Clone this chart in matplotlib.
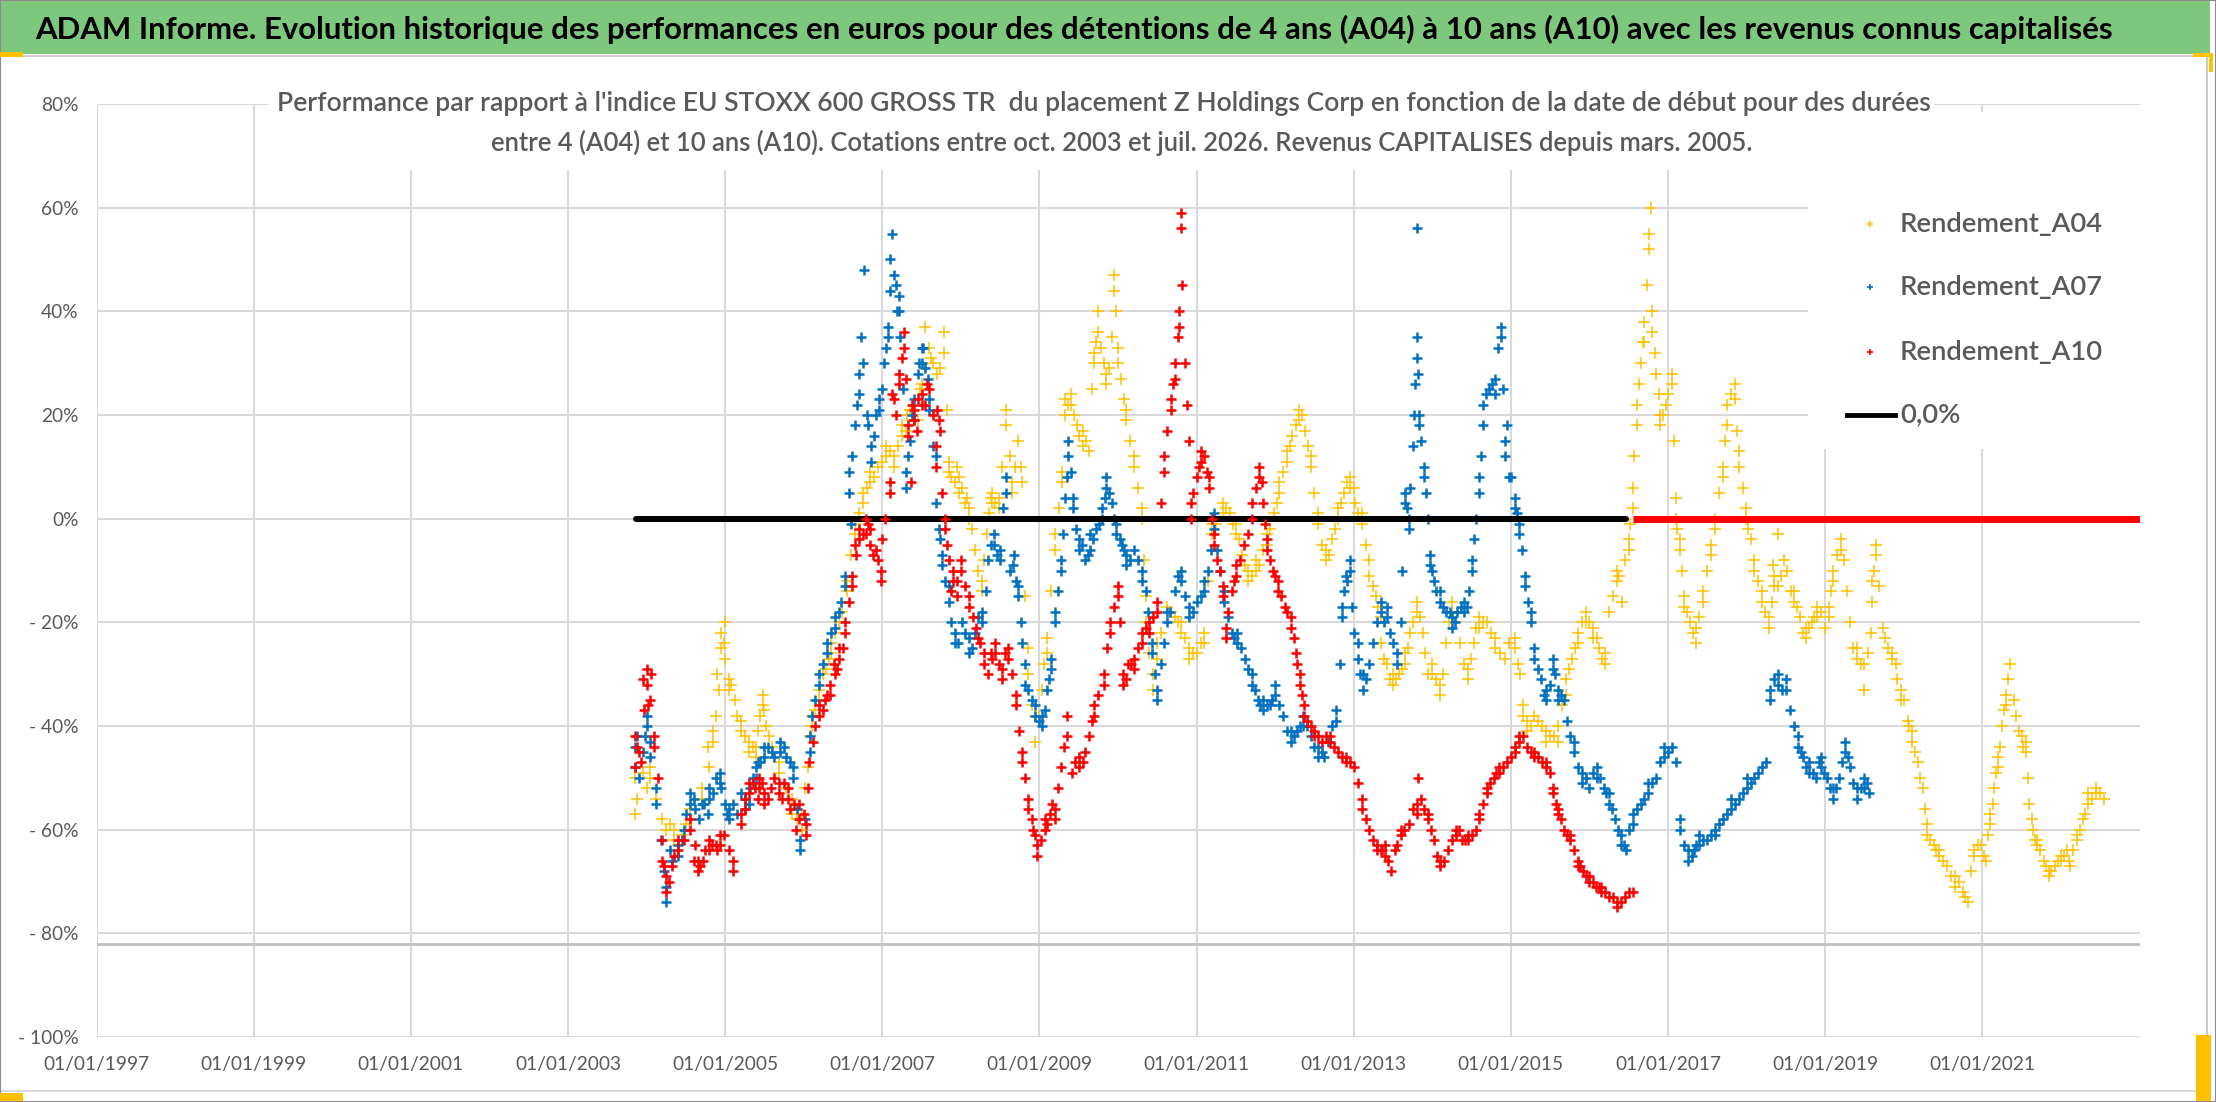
import matplotlib
matplotlib.use("Agg")
import matplotlib.pyplot as plt
from matplotlib.font_manager import FontProperties, fontManager
from matplotlib.textpath import TextPath
from matplotlib.patches import Rectangle
from matplotlib.lines import Line2D

# ---------------------------------------------------------------- data
TITLE = ("ADAM Informe. Evolution historique des performances en euros pour des "
         "détentions de 4 ans (A04) à 10 ans (A10) avec les revenus connus capitalisés")
SUB1 = ("Performance par rapport à l'indice EU STOXX 600 GROSS TR  du placement Z Holdings "
        "Corp en fonction de la date de début pour des durées")
SUB2 = ("entre 4 (A04) et 10 ans (A10). Cotations entre oct. 2003 et juil. 2026. "
        "Revenus CAPITALISES depuis mars. 2005.")

SERIES_NAMES = ["Rendement_A04", "Rendement_A07", "Rendement_A10", "0,0%"]

TICK_YEARS = [1997, 1999, 2001, 2003, 2005, 2007, 2009, 2011, 2013, 2015, 2017, 2019, 2021]
TICK_LABELS = ["01/01/%d" % y for y in TICK_YEARS]
Y_TICKS = [80, 60, 40, 20, 0, -20, -40, -60, -80, -100]
Y_LABELS = ["80%", "60%", "40%", "20%", "0%", "- 20%", "- 40%", "- 60%", "- 80%", "- 100%"]

# (start date as decimal year, performance in %)
A04 = [
    (2003.85, -50), (2003.85, -57), (2004.05, -50), (2004.05, -48), (2004.12, -54), (2004.20, -58),
    (2004.35, -62), (2004.35, -60), (2004.45, -61), (2004.55, -58), (2004.55, -56), (2004.70, -54),
    (2004.70, -52), (2004.80, -48), (2004.85, -41), (2004.85, -43), (2004.92, -33), (2004.95, -25),
    (2004.95, -22), (2005.00, -20), (2005.00, -27), (2005.05, -33), (2005.05, -31), (2005.12, -35),
    (2005.20, -41), (2005.20, -39), (2005.30, -43), (2005.30, -45), (2005.39, -46), (2005.39, -44),
    (2005.45, -38), (2005.48, -36), (2005.48, -34), (2005.52, -40), (2005.60, -44), (2005.68, -49),
    (2005.68, -47), (2005.78, -52), (2005.85, -57), (2005.85, -54), (2005.92, -58), (2005.98, -60),
    (2005.98, -57), (2006.05, -48), (2006.11, -38), (2006.11, -40), (2006.20, -35), (2006.20, -33),
    (2006.28, -29), (2006.35, -24), (2006.35, -26), (2006.45, -20), (2006.49, -18), (2006.55, -12),
    (2006.55, -14), (2006.60, -7), (2006.65, -1), (2006.65, -3), (2006.75, 5), (2006.75, 3),
    (2006.85, 9), (2006.85, 7), (2006.95, 10), (2007.05, 12), (2007.05, 14), (2007.15, 12),
    (2007.15, 10), (2007.25, 18), (2007.25, 16), (2007.32, 20), (2007.40, 19), (2007.40, 21),
    (2007.48, 25), (2007.55, 37), (2007.55, 29), (2007.62, 31), (2007.70, 28), (2007.78, 32),
    (2007.78, 36), (2007.82, 21), (2007.85, 9), (2007.85, 11), (2007.92, 7), (2007.98, 8),
    (2007.98, 5), (2008.05, 3), (2008.10, 2), (2008.10, 0), (2008.18, -6), (2008.27, -14),
    (2008.27, -12), (2008.33, -3), (2008.40, 5), (2008.40, 3), (2008.48, 4), (2008.48, 2),
    (2008.58, 21), (2008.58, 18), (2008.65, 5), (2008.65, 7), (2008.73, 15), (2008.78, 7),
    (2008.82, -15), (2008.86, -30), (2008.86, -25), (2008.95, -43), (2008.95, -38), (2009.03, -33),
    (2009.10, -23), (2009.10, -26), (2009.20, -3), (2009.20, -6), (2009.29, 7), (2009.29, 9),
    (2009.33, 23), (2009.33, 20), (2009.40, 22), (2009.40, 24), (2009.48, 18), (2009.55, 17),
    (2009.55, 14), (2009.63, 13), (2009.70, 32), (2009.70, 30), (2009.75, 40), (2009.75, 36),
    (2009.82, 30), (2009.85, 26), (2009.85, 28), (2009.92, 35), (2009.95, 47), (2009.95, 44),
    (2010.00, 33), (2010.00, 30), (2010.10, 19), (2010.10, 21), (2010.20, 10), (2010.20, 12),
    (2010.30, 0), (2010.30, 2), (2010.35, -20), (2010.35, -15), (2010.45, -33), (2010.45, -30),
    (2010.50, -27), (2010.50, -24), (2010.62, -17), (2010.72, -19), (2010.80, -20), (2010.80, -22),
    (2010.90, -27), (2010.90, -25), (2011.00, -26), (2011.10, -24), (2011.10, -22), (2011.15, -12),
    (2011.20, -1), (2011.20, -3), (2011.33, 3), (2011.33, 1), (2011.42, 1), (2011.50, -3),
    (2011.50, -1), (2011.58, -7), (2011.65, -12), (2011.65, -10), (2011.75, -10), (2011.75, -8),
    (2011.85, -6), (2011.90, -5), (2011.90, -3), (2011.98, 1), (2012.05, 5), (2012.05, 7),
    (2012.15, 11), (2012.15, 13), (2012.22, 16), (2012.30, 19), (2012.30, 21), (2012.38, 17),
    (2012.45, 12), (2012.45, 10), (2012.55, -1), (2012.55, 1), (2012.65, -8), (2012.65, -6),
    (2012.72, -4), (2012.80, 0), (2012.80, 2), (2012.88, 5), (2012.95, 8), (2012.95, 6),
    (2013.02, 3), (2013.10, -1), (2013.10, 1), (2013.20, -11), (2013.20, -8), (2013.28, -15),
    (2013.35, -19), (2013.35, -24), (2013.42, -28), (2013.50, -32), (2013.50, -30), (2013.58, -30),
    (2013.65, -28), (2013.65, -26), (2013.72, -22), (2013.80, -18), (2013.80, -16), (2013.88, -22),
    (2013.95, -30), (2014.00, -30), (2014.00, -28), (2014.10, -34), (2014.10, -32), (2014.18, -24),
    (2014.25, -16), (2014.25, -18), (2014.35, -24), (2014.45, -31), (2014.45, -29), (2014.53, -24),
    (2014.60, -19), (2014.60, -21), (2014.70, -20), (2014.80, -25), (2014.80, -23), (2014.92, -27),
    (2015.05, -25), (2015.05, -23), (2015.12, -30), (2015.15, -36), (2015.15, -38), (2015.20, -41),
    (2015.20, -39), (2015.30, -38), (2015.40, -40), (2015.45, -41), (2015.45, -43), (2015.60, -43),
    (2015.60, -40), (2015.70, -31), (2015.70, -34), (2015.78, -27), (2015.85, -22), (2015.85, -24),
    (2015.95, -18), (2015.95, -20), (2016.05, -23), (2016.05, -21), (2016.12, -25), (2016.20, -28),
    (2016.20, -26), (2016.25, -18), (2016.35, -10), (2016.35, -12), (2016.42, -16), (2016.50, -4),
    (2016.50, -6), (2016.55, 6), (2016.55, 2), (2016.60, 22), (2016.60, 18), (2016.66, 30),
    (2016.70, 38), (2016.70, 34), (2016.76, 52), (2016.76, 55), (2016.78, 60), (2016.80, 36),
    (2016.80, 40), (2016.85, 28), (2016.90, 20), (2016.90, 18), (2016.97, 22), (2017.05, 28),
    (2017.05, 26), (2017.10, 0), (2017.10, 4), (2017.15, -6), (2017.15, -4), (2017.20, -17),
    (2017.20, -15), (2017.28, -20), (2017.35, -24), (2017.35, -21), (2017.45, -14), (2017.45, -16),
    (2017.55, -5), (2017.55, -7), (2017.60, 0), (2017.60, -2), (2017.70, 10), (2017.70, 8),
    (2017.75, 22), (2017.75, 18), (2017.85, 26), (2017.85, 23), (2017.90, 10), (2017.90, 13),
    (2017.99, 2), (2017.99, 0), (2018.05, -4), (2018.10, -10), (2018.10, -8), (2018.20, -16),
    (2018.20, -14), (2018.28, -21), (2018.28, -19), (2018.35, -13), (2018.35, -11), (2018.40, -13),
    (2018.40, -3), (2018.48, -8), (2018.60, -16), (2018.60, -14), (2018.68, -19), (2018.75, -23),
    (2018.75, -21), (2018.83, -20), (2018.90, -19), (2018.90, -17), (2019.00, -21), (2019.05, -19),
    (2019.05, -17), (2019.10, -10), (2019.10, -12), (2019.20, -6), (2019.20, -4), (2019.28, -14),
    (2019.35, -25), (2019.40, -27), (2019.40, -25), (2019.50, -33), (2019.50, -28), (2019.58, -22),
    (2019.60, -16), (2019.60, -12), (2019.65, -7), (2019.65, -5), (2019.73, -21), (2019.80, -25),
    (2019.85, -27), (2019.85, -26), (2019.92, -31), (2019.97, -35), (2019.97, -33), (2020.05, -39),
    (2020.10, -43), (2020.10, -41), (2020.18, -47), (2020.24, -52), (2020.30, -61), (2020.30, -59),
    (2020.38, -63), (2020.45, -65), (2020.45, -64), (2020.55, -67), (2020.65, -71), (2020.65, -69),
    (2020.75, -72), (2020.82, -74), (2020.90, -64), (2020.90, -65), (2020.98, -63), (2021.05, -66),
    (2021.10, -57), (2021.10, -59), (2021.15, -52), (2021.20, -46), (2021.20, -48), (2021.25, -40),
    (2021.30, -34), (2021.30, -36), (2021.35, -28), (2021.43, -38), (2021.50, -42), (2021.55, -45),
    (2021.55, -43), (2021.60, -55), (2021.65, -60), (2021.70, -63), (2021.70, -62), (2021.78, -66),
    (2021.85, -69), (2021.85, -68), (2021.92, -67), (2022.00, -65), (2022.00, -66), (2022.08, -64),
    (2022.12, -67), (2022.20, -62), (2022.20, -61), (2022.28, -58), (2022.35, -55), (2022.35, -53),
    (2022.45, -53), (2022.45, -52), (2022.55, -54),
    # further points read inside the dense clusters
    (2003.88, -54), (2003.95, -49), (2004.00, -52), (2004.25, -60), (2004.30, -59), (2004.40, -63),
    (2004.50, -59), (2004.78, -44), (2004.88, -38), (2004.90, -30), (2004.98, -24), (2005.08, -32),
    (2005.15, -38), (2005.25, -42), (2005.35, -44), (2005.42, -41), (2005.50, -37), (2005.56, -42),
    (2006.02, -52), (2006.08, -42), (2006.15, -37), (2006.25, -30), (2006.32, -27), (2006.40, -22),
    (2006.70, 1), (2006.80, 6), (2006.90, 8), (2007.00, 11), (2007.10, 13), (2007.20, 14),
    (2007.30, 17), (2007.35, 21), (2007.45, 19), (2007.50, 26), (2007.60, 33), (2007.65, 30),
    (2007.73, 29), (2007.88, 8), (2007.95, 10), (2008.02, 6), (2008.08, 4), (2008.14, -2),
    (2008.22, -10), (2008.30, -8), (2008.36, 1), (2008.38, 4), (2008.44, 3), (2008.52, 10),
    (2008.62, 12), (2008.69, 10), (2008.76, 10), (2008.90, -36), (2009.00, -38), (2009.06, -28),
    (2009.15, -14), (2009.25, 2), (2009.36, 22), (2009.44, 20), (2009.51, 16), (2009.59, 15),
    (2009.67, 25), (2009.72, 34), (2009.79, 33), (2009.88, 29), (2009.97, 40), (2010.04, 27),
    (2010.07, 23), (2010.15, 15), (2010.25, 6), (2010.33, -8), (2010.40, -26), (2010.55, -22),
    (2010.67, -18), (2010.76, -20), (2010.85, -23), (2010.95, -26), (2011.05, -24), (2011.25, -1),
    (2011.38, 2), (2011.46, -1), (2011.54, -4), (2011.62, -9), (2011.70, -11), (2011.80, -9),
    (2011.94, -2), (2012.02, 3), (2012.10, 9), (2012.19, 14), (2012.26, 18), (2012.34, 20),
    (2012.42, 14), (2012.50, 5), (2012.60, -5), (2012.69, -7), (2012.76, -2), (2012.84, 3),
    (2012.92, 7), (2013.00, 6), (2013.06, 1), (2013.15, -5), (2013.24, -13), (2013.31, -17),
    (2013.38, -27), (2013.46, -31), (2013.54, -31), (2013.62, -29), (2013.69, -25), (2013.76, -20),
    (2013.84, -19), (2013.91, -26), (2014.05, -31), (2014.14, -30), (2014.21, -20), (2014.30, -20),
    (2014.40, -28), (2014.49, -27), (2014.56, -21), (2014.65, -20), (2014.75, -22), (2014.86, -26),
    (2014.98, -24), (2015.09, -28), (2015.25, -40), (2015.35, -39), (2015.50, -42), (2015.55, -42),
    (2015.65, -36), (2015.74, -29), (2015.81, -25), (2015.90, -20), (2016.00, -20), (2016.09, -23),
    (2016.16, -27), (2016.30, -15), (2016.38, -11), (2016.45, -8), (2016.52, -1), (2016.57, 12),
    (2016.63, 26), (2016.68, 34), (2016.73, 45), (2016.83, 32), (2016.88, 24), (2016.94, 20),
    (2017.00, 24), (2017.08, 15), (2017.12, -2), (2017.18, -10), (2017.24, -18), (2017.32, -22),
    (2017.40, -19), (2017.50, -10), (2017.65, 5), (2017.72, 15), (2017.80, 24), (2017.88, 17),
    (2017.95, 6), (2018.02, -2), (2018.15, -12), (2018.24, -18), (2018.32, -16), (2018.33, -9),
    (2018.44, -11), (2018.52, -10), (2018.56, -14), (2018.64, -17), (2018.72, -22), (2018.80, -21),
    (2018.86, -19), (2018.95, -18), (2019.08, -14), (2019.15, -7), (2019.24, -8), (2019.32, -20),
    (2019.45, -28), (2019.55, -26), (2019.62, -10), (2019.69, -13), (2019.76, -23), (2019.90, -28),
    (2020.00, -35), (2020.07, -40), (2020.14, -45), (2020.21, -50), (2020.27, -56), (2020.34, -62),
    (2020.41, -64), (2020.50, -66), (2020.60, -69), (2020.70, -70), (2020.78, -73), (2020.86, -68),
    (2020.94, -63), (2021.02, -65), (2021.07, -61), (2021.13, -55), (2021.18, -49), (2021.23, -44),
    (2021.28, -37), (2021.33, -31), (2021.40, -35), (2021.47, -41), (2021.52, -44), (2021.58, -50),
    (2021.63, -58), (2021.67, -62), (2021.74, -64), (2021.81, -67), (2021.88, -68), (2021.96, -66),
    (2022.04, -65), (2022.10, -66), (2022.16, -64), (2022.24, -60), (2022.31, -57), (2022.40, -54),
    (2022.50, -53),
]

A07 = [
    (2003.85, -48), (2003.85, -44), (2003.90, -50), (2003.98, -42), (2004.00, -40), (2004.00, -38),
    (2004.04, -43), (2004.12, -55), (2004.12, -52), (2004.18, -62), (2004.22, -68), (2004.25, -74),
    (2004.25, -71), (2004.32, -66), (2004.40, -65), (2004.40, -63), (2004.48, -60), (2004.55, -53),
    (2004.55, -55), (2004.62, -56), (2004.67, -58), (2004.73, -55), (2004.80, -54), (2004.80, -52),
    (2004.88, -50), (2004.93, -51), (2004.93, -49), (2005.00, -55), (2005.05, -58), (2005.05, -56),
    (2005.15, -57), (2005.25, -56), (2005.25, -54), (2005.32, -52), (2005.39, -50), (2005.39, -48),
    (2005.45, -47), (2005.50, -46), (2005.50, -44), (2005.60, -45), (2005.70, -45), (2005.70, -43),
    (2005.78, -46), (2005.86, -48), (2005.86, -50), (2005.92, -56), (2005.95, -64), (2005.95, -62),
    (2006.02, -58), (2006.08, -42), (2006.08, -45), (2006.15, -35), (2006.20, -30), (2006.20, -32),
    (2006.30, -24), (2006.30, -26), (2006.40, -21), (2006.40, -19), (2006.48, -16), (2006.53, -13),
    (2006.53, -11), (2006.58, 9), (2006.58, 5), (2006.65, 18), (2006.70, 24), (2006.70, 28),
    (2006.73, 35), (2006.77, 48), (2006.82, 18), (2006.86, 14), (2006.86, 11), (2006.92, 20),
    (2006.96, 23), (2006.96, 21), (2007.02, 30), (2007.07, 37), (2007.07, 35), (2007.10, 44),
    (2007.10, 50), (2007.13, 55), (2007.17, 45), (2007.21, 43), (2007.21, 40), (2007.26, 25),
    (2007.30, 9), (2007.30, 6), (2007.35, 15), (2007.40, 23), (2007.40, 19), (2007.45, 28),
    (2007.50, 33), (2007.50, 30), (2007.55, 29), (2007.60, 23), (2007.60, 21), (2007.65, 14),
    (2007.68, 12), (2007.68, 3), (2007.72, -2), (2007.76, -9), (2007.76, -7), (2007.85, -16),
    (2007.85, -13), (2007.93, -24), (2007.93, -22), (2008.02, -20), (2008.10, -26), (2008.10, -23),
    (2008.18, -22), (2008.27, -20), (2008.27, -18), (2008.35, -8), (2008.42, -5), (2008.42, -3),
    (2008.50, -6), (2008.50, -8), (2008.58, 8), (2008.58, 5), (2008.62, -10), (2008.68, -7),
    (2008.73, -15), (2008.73, -13), (2008.78, -24), (2008.82, -32), (2008.82, -28), (2008.90, -35),
    (2008.95, -38), (2008.95, -36), (2009.03, -40), (2009.03, -38), (2009.10, -33), (2009.15, -29),
    (2009.15, -27), (2009.20, -18), (2009.20, -20), (2009.27, -10), (2009.27, -8), (2009.33, 4),
    (2009.37, 12), (2009.37, 15), (2009.43, 4), (2009.43, 2), (2009.50, -6), (2009.50, -4),
    (2009.58, -8), (2009.65, -6), (2009.65, -3), (2009.72, -2), (2009.80, 0), (2009.80, 2),
    (2009.85, 8), (2009.85, 6), (2009.92, 3), (2009.98, -3), (2009.98, -1), (2010.05, -5),
    (2010.10, -7), (2010.10, -9), (2010.20, -6), (2010.31, -10), (2010.31, -12), (2010.38, -18),
    (2010.43, -26), (2010.43, -24), (2010.50, -35), (2010.50, -33), (2010.55, -28), (2010.62, -20),
    (2010.62, -18), (2010.72, -14), (2010.80, -10), (2010.80, -12), (2010.90, -19), (2010.90, -17),
    (2011.00, -16), (2011.10, -14), (2011.10, -12), (2011.18, -6), (2011.22, -2), (2011.22, 1),
    (2011.30, -10), (2011.35, -16), (2011.35, -14), (2011.45, -22), (2011.52, -24), (2011.52, -22),
    (2011.62, -27), (2011.70, -32), (2011.70, -30), (2011.78, -35), (2011.85, -37), (2011.85, -35),
    (2011.93, -36), (2012.00, -34), (2012.00, -32), (2012.10, -38), (2012.20, -43), (2012.20, -41),
    (2012.28, -41), (2012.35, -40), (2012.35, -38), (2012.45, -42), (2012.55, -46), (2012.55, -44),
    (2012.62, -46), (2012.72, -40), (2012.77, -39), (2012.77, -37), (2012.82, -28), (2012.85, -19),
    (2012.85, -17), (2012.92, -12), (2012.95, -10), (2012.95, -8), (2013.00, -22), (2013.05, -27),
    (2013.05, -24), (2013.12, -33), (2013.12, -30), (2013.20, -28), (2013.30, -20), (2013.35, -18),
    (2013.35, -16), (2013.42, -17), (2013.42, -19), (2013.50, -24), (2013.55, -26), (2013.55, -28),
    (2013.62, -10), (2013.65, 5), (2013.65, 3), (2013.70, 0), (2013.70, -2), (2013.75, 14),
    (2013.78, 26), (2013.80, 31), (2013.80, 35), (2013.80, 56), (2013.82, 28), (2013.83, 20),
    (2013.83, 18), (2013.90, 10), (2013.90, 8), (2013.94, 0), (2013.97, -9), (2013.97, -7),
    (2014.05, -14), (2014.10, -16), (2014.10, -14), (2014.18, -18), (2014.25, -19), (2014.25, -21),
    (2014.32, -18), (2014.40, -18), (2014.40, -16), (2014.47, -14), (2014.50, -10), (2014.50, -8),
    (2014.56, 0), (2014.60, 8), (2014.60, 5), (2014.65, 22), (2014.65, 18), (2014.72, 25),
    (2014.80, 27), (2014.80, 24), (2014.87, 37), (2014.87, 35), (2014.90, 25), (2014.93, 15),
    (2014.93, 12), (2014.98, 8), (2015.05, 4), (2015.05, 2), (2015.10, -3), (2015.10, -1),
    (2015.18, -13), (2015.18, -11), (2015.25, -20), (2015.25, -18), (2015.30, -27), (2015.30, -25),
    (2015.38, -31), (2015.45, -35), (2015.45, -33), (2015.53, -27), (2015.53, -29), (2015.60, -35),
    (2015.60, -33), (2015.68, -35), (2015.75, -42), (2015.80, -45), (2015.80, -43), (2015.90, -51),
    (2015.90, -49), (2016.00, -52), (2016.10, -48), (2016.10, -50), (2016.18, -52), (2016.25, -55),
    (2016.25, -53), (2016.33, -58), (2016.40, -63), (2016.40, -61), (2016.47, -64), (2016.55, -57),
    (2016.55, -59), (2016.65, -55), (2016.75, -53), (2016.75, -51), (2016.85, -50), (2016.95, -46),
    (2016.95, -44), (2017.05, -44), (2017.10, -47), (2017.15, -60), (2017.15, -58), (2017.26, -66),
    (2017.26, -64), (2017.33, -64), (2017.40, -63), (2017.40, -61), (2017.50, -62), (2017.60, -61),
    (2017.60, -60), (2017.70, -58), (2017.80, -56), (2017.80, -54), (2017.90, -54), (2018.00, -52),
    (2018.00, -50), (2018.10, -50), (2018.20, -48), (2018.25, -47), (2018.30, -33), (2018.30, -35),
    (2018.40, -32), (2018.40, -30), (2018.50, -33), (2018.50, -31), (2018.55, -37), (2018.65, -44),
    (2018.65, -42), (2018.72, -46), (2018.80, -49), (2018.80, -47), (2018.88, -50), (2018.95, -48),
    (2018.95, -46), (2019.02, -50), (2019.10, -54), (2019.10, -52), (2019.18, -50), (2019.25, -45),
    (2019.25, -43), (2019.32, -48), (2019.40, -54), (2019.40, -52), (2019.50, -52), (2019.50, -50),
    (2019.56, -53),
    # further points read inside the dense clusters
    (2003.88, -42), (2003.95, -45), (2004.05, -46), (2004.30, -64), (2004.45, -62), (2004.50, -57),
    (2004.60, -54), (2004.70, -55), (2004.78, -57), (2004.85, -53), (2004.95, -52), (2005.02, -57),
    (2005.10, -55), (2005.20, -53), (2005.30, -55), (2005.35, -50), (2005.42, -47), (2005.55, -44),
    (2005.62, -46), (2005.75, -44), (2005.82, -47), (2006.10, -38), (2006.25, -28), (2006.35, -22),
    (2006.45, -18), (2006.60, -1), (2006.62, 12), (2006.68, 22), (2006.75, 30), (2006.80, 20),
    (2006.90, 16), (2007.00, 25), (2007.05, 33), (2007.15, 47), (2007.19, 40), (2007.23, 35),
    (2007.33, 12), (2007.38, 20), (2007.47, 30), (2007.52, 33), (2007.58, 27), (2007.74, -4),
    (2007.80, -12), (2007.88, -20), (2007.97, -24), (2008.05, -22), (2008.14, -25), (2008.22, -19),
    (2008.32, -14), (2008.38, -5), (2008.46, -7), (2008.54, 2), (2008.66, -9), (2008.70, -12),
    (2008.76, -20), (2008.86, -33), (2008.99, -39), (2009.07, -37), (2009.12, -31), (2009.24, -14),
    (2009.30, -3), (2009.35, 8), (2009.40, 9), (2009.46, -2), (2009.54, -5), (2009.62, -7),
    (2009.68, -4), (2009.76, -1), (2009.83, 4), (2009.89, 5), (2009.95, 0), (2010.02, -4),
    (2010.07, -6), (2010.15, -8), (2010.25, -8), (2010.35, -14), (2010.47, -30), (2010.58, -24),
    (2010.66, -18), (2010.76, -11), (2010.85, -15), (2010.95, -18), (2011.05, -15), (2011.14, -10),
    (2011.26, -6), (2011.40, -19), (2011.48, -23), (2011.57, -25), (2011.66, -29), (2011.74, -33),
    (2011.81, -36), (2011.89, -36), (2011.96, -35), (2012.05, -36), (2012.15, -41), (2012.24, -42),
    (2012.31, -40), (2012.40, -40), (2012.50, -44), (2012.59, -45), (2012.67, -43), (2012.87, -14),
    (2012.90, -11), (2012.98, -17), (2013.08, -30), (2013.16, -31), (2013.25, -24), (2013.38, -20),
    (2013.46, -22), (2013.60, -20), (2013.68, 2), (2013.72, 6), (2013.77, 20), (2013.85, 15),
    (2013.92, 5), (2014.00, -10), (2014.02, -12), (2014.14, -17), (2014.22, -18), (2014.29, -20),
    (2014.36, -17), (2014.44, -17), (2014.53, -4), (2014.62, 12), (2014.68, 24), (2014.76, 26),
    (2014.84, 33), (2014.95, 18), (2015.00, 8), (2015.08, 1), (2015.14, -6), (2015.22, -16),
    (2015.34, -29), (2015.42, -34), (2015.50, -32), (2015.56, -30), (2015.64, -34), (2015.72, -39),
    (2015.85, -48), (2015.95, -50), (2016.05, -49), (2016.14, -50), (2016.21, -53), (2016.29, -56),
    (2016.36, -60), (2016.44, -63), (2016.50, -60), (2016.60, -56), (2016.70, -54), (2016.80, -51),
    (2016.90, -47), (2017.00, -45), (2017.20, -63), (2017.30, -65), (2017.36, -63), (2017.45, -62),
    (2017.55, -61), (2017.65, -59), (2017.75, -57), (2017.85, -55), (2017.95, -53), (2018.05, -51),
    (2018.15, -49), (2018.35, -31), (2018.45, -33), (2018.60, -40), (2018.69, -45), (2018.76, -48),
    (2018.84, -49), (2018.92, -47), (2018.99, -49), (2019.06, -52), (2019.14, -52), (2019.21, -47),
    (2019.29, -46), (2019.36, -51), (2019.45, -52), (2019.53, -51),
]

A10 = [
    (2003.85, -42), (2003.85, -48), (2003.90, -45), (2003.97, -37), (2004.00, -32), (2004.00, -29),
    (2004.04, -35), (2004.10, -42), (2004.10, -44), (2004.15, -50), (2004.20, -66), (2004.20, -62),
    (2004.25, -72), (2004.25, -69), (2004.32, -67), (2004.40, -64), (2004.40, -62), (2004.48, -62),
    (2004.55, -60), (2004.55, -58), (2004.62, -63), (2004.65, -66), (2004.65, -68), (2004.72, -66),
    (2004.80, -64), (2004.80, -62), (2004.88, -63), (2004.93, -61), (2004.93, -63), (2004.99, -61),
    (2005.05, -64), (2005.10, -66), (2005.10, -68), (2005.20, -59), (2005.20, -57), (2005.25, -56),
    (2005.30, -53), (2005.30, -51), (2005.38, -52), (2005.43, -50), (2005.43, -52), (2005.50, -53),
    (2005.50, -55), (2005.58, -52), (2005.69, -51), (2005.69, -53), (2005.75, -51), (2005.80, -52),
    (2005.80, -54), (2005.88, -55), (2005.94, -55), (2005.94, -58), (2006.03, -61), (2006.03, -59),
    (2006.07, -47), (2006.12, -43), (2006.20, -38), (2006.20, -36), (2006.27, -35), (2006.33, -34),
    (2006.33, -32), (2006.40, -30), (2006.45, -27), (2006.45, -25), (2006.53, -20), (2006.53, -22),
    (2006.58, -16), (2006.62, -13), (2006.62, -11), (2006.67, -7), (2006.70, -4), (2006.70, -2),
    (2006.79, 0), (2006.79, -3), (2006.85, -2), (2006.85, -5), (2006.92, -6), (2006.98, -10),
    (2006.98, -12), (2007.04, 0), (2007.10, 7), (2007.10, 5), (2007.13, 24), (2007.17, 20),
    (2007.21, 28), (2007.21, 26), (2007.28, 36), (2007.28, 33), (2007.33, 16), (2007.33, 18),
    (2007.36, 7), (2007.40, 21), (2007.40, 19), (2007.45, 23), (2007.50, 24), (2007.50, 22),
    (2007.57, 26), (2007.64, 20), (2007.68, 10), (2007.68, 14), (2007.72, 19), (2007.76, 5),
    (2007.80, -2), (2007.80, 0), (2007.85, -8), (2007.90, -12), (2007.90, -10), (2007.95, -15),
    (2008.00, -10), (2008.00, -8), (2008.10, -17), (2008.10, -15), (2008.19, -21), (2008.25, -24),
    (2008.30, -28), (2008.30, -26), (2008.38, -26), (2008.44, -26), (2008.44, -24), (2008.52, -31),
    (2008.52, -29), (2008.60, -27), (2008.60, -25), (2008.70, -36), (2008.70, -34), (2008.78, -47),
    (2008.78, -45), (2008.85, -56), (2008.85, -54), (2008.92, -60), (2008.97, -65), (2008.97, -63),
    (2009.07, -60), (2009.07, -58), (2009.13, -57), (2009.20, -58), (2009.20, -56), (2009.28, -48),
    (2009.35, -38), (2009.35, -42), (2009.41, -49), (2009.50, -48), (2009.50, -46), (2009.58, -45),
    (2009.70, -36), (2009.70, -38), (2009.82, -32), (2009.82, -30), (2009.90, -20), (2009.90, -22),
    (2010.00, -13), (2010.00, -15), (2010.06, -32), (2010.06, -30), (2010.13, -28), (2010.20, -29),
    (2010.20, -27), (2010.31, -22), (2010.31, -24), (2010.39, -22), (2010.39, -20), (2010.50, -18),
    (2010.50, -16), (2010.55, 3), (2010.58, 12), (2010.58, 9), (2010.67, 23), (2010.67, 21),
    (2010.73, 30), (2010.73, 27), (2010.78, 40), (2010.78, 37), (2010.80, 59), (2010.80, 56),
    (2010.85, 30), (2010.90, 15), (2010.93, 0), (2010.93, 3), (2011.00, 8), (2011.05, 13),
    (2011.05, 11), (2011.16, 6), (2011.16, 8), (2011.22, -5), (2011.22, -3), (2011.30, -10),
    (2011.33, -15), (2011.33, -13), (2011.37, -23), (2011.37, -21), (2011.45, -14), (2011.50, -11),
    (2011.50, -9), (2011.60, -5), (2011.70, 0), (2011.70, 3), (2011.80, 10), (2011.80, 8),
    (2011.85, 3), (2011.90, -6), (2011.90, -4), (2011.97, -10), (2012.03, -14), (2012.03, -12),
    (2012.12, -17), (2012.20, -21), (2012.20, -19), (2012.26, -26), (2012.31, -32), (2012.31, -30),
    (2012.37, -38), (2012.37, -36), (2012.45, -40), (2012.50, -42), (2012.50, -41), (2012.60, -43),
    (2012.70, -43), (2012.70, -42), (2012.80, -45), (2012.90, -47), (2012.90, -46), (2013.00, -48),
    (2013.10, -56), (2013.10, -54), (2013.20, -60), (2013.30, -64), (2013.30, -63), (2013.40, -65),
    (2013.40, -63), (2013.48, -68), (2013.55, -63), (2013.60, -61), (2013.60, -60), (2013.70, -59),
    (2013.80, -57), (2013.80, -55), (2013.82, -50), (2013.94, -58), (2013.94, -57), (2014.02, -62),
    (2014.10, -67), (2014.10, -66), (2014.20, -64), (2014.30, -61), (2014.30, -60), (2014.38, -62),
    (2014.45, -62), (2014.45, -61), (2014.55, -60), (2014.60, -58), (2014.60, -57), (2014.70, -52),
    (2014.70, -53), (2014.78, -50), (2014.85, -49), (2014.85, -48), (2014.95, -47), (2015.05, -45),
    (2015.05, -44), (2015.10, -42), (2015.10, -43), (2015.20, -44), (2015.30, -45), (2015.30, -46),
    (2015.40, -47), (2015.45, -48), (2015.45, -47), (2015.53, -53), (2015.53, -52), (2015.60, -57),
    (2015.60, -56), (2015.68, -60), (2015.75, -62), (2015.75, -61), (2015.85, -67), (2015.85, -66),
    (2015.92, -68), (2016.00, -70), (2016.00, -69), (2016.08, -71), (2016.15, -72), (2016.15, -71),
    (2016.25, -73), (2016.35, -75), (2016.35, -74), (2016.45, -73), (2016.55, -72),
    # further points read inside the dense clusters
    (2003.95, -31), (2004.02, -36), (2004.06, -30), (2003.88, -44), (2003.93, -47), (2004.22, -67),
    (2004.28, -70), (2004.35, -65), (2004.60, -66), (2004.68, -67), (2004.75, -64), (2004.83, -63),
    (2004.90, -64), (2005.25, -54), (2005.35, -51), (2005.42, -54), (2005.47, -51), (2005.55, -54),
    (2005.62, -50), (2005.72, -54), (2005.83, -56), (2005.90, -60), (2006.00, -57), (2006.05, -52),
    (2006.15, -40), (2006.25, -37), (2006.30, -34), (2006.38, -28), (2006.43, -29), (2006.50, -25),
    (2006.65, -5), (2006.75, -3), (2006.82, -1), (2006.88, -7), (2006.95, -8), (2007.00, -4),
    (2007.15, 23), (2007.25, 31), (2007.30, 27), (2007.38, 22), (2007.44, 17), (2007.55, 22),
    (2007.60, 25), (2007.70, 21), (2007.74, 17), (2007.83, -5), (2007.88, -14), (2007.95, -12),
    (2008.05, -13), (2008.15, -19), (2008.22, -23), (2008.35, -30), (2008.40, -27), (2008.48, -28),
    (2008.56, -26), (2008.65, -30), (2008.74, -41), (2008.82, -50), (2008.90, -58), (2008.95, -61),
    (2009.02, -62), (2009.10, -59), (2009.16, -55), (2009.24, -52), (2009.31, -44), (2009.45, -47),
    (2009.55, -47), (2009.63, -42), (2009.67, -39), (2009.75, -34), (2009.86, -25), (2009.95, -17),
    (2010.03, -20), (2010.10, -31), (2010.17, -28), (2010.25, -25), (2010.35, -21), (2010.45, -19),
    (2010.62, 17), (2010.70, 26), (2010.76, 35), (2010.82, 45), (2010.88, 22), (2010.96, 5),
    (2011.03, 10), (2011.10, 12), (2011.13, 9), (2011.19, 0), (2011.26, -8), (2011.40, -18),
    (2011.47, -12), (2011.55, -8), (2011.65, -3), (2011.75, 6), (2011.83, 7), (2011.87, -1),
    (2011.94, -8), (2012.00, -11), (2012.08, -15), (2012.15, -18), (2012.24, -23), (2012.28, -28),
    (2012.34, -34), (2012.41, -39), (2012.55, -42), (2012.65, -42), (2012.75, -44), (2012.85, -46),
    (2012.95, -47), (2013.05, -51), (2013.15, -58), (2013.25, -62), (2013.35, -64), (2013.36, -64),
    (2013.44, -66), (2013.52, -64), (2013.64, -60), (2013.75, -56), (2013.86, -54), (2013.90, -56),
    (2013.98, -60), (2014.06, -65), (2014.15, -66), (2014.25, -62), (2014.34, -60), (2014.41, -62),
    (2014.50, -61), (2014.65, -55), (2014.74, -51), (2014.81, -49), (2014.90, -48), (2015.00, -46),
    (2015.15, -42), (2015.25, -45), (2015.35, -46), (2015.50, -49), (2015.57, -55), (2015.64, -58),
    (2015.72, -61), (2015.80, -64), (2015.88, -67), (2015.96, -69), (2016.04, -70), (2016.12, -71),
    (2016.20, -72), (2016.30, -73), (2016.40, -74), (2016.50, -72),
]

# A10 start dates without a full 10-year history are reported at 0 %
A10_ZERO_X = [2016.56, 2023.0]
A10_ZERO_Y = [0, 0]
# reference line "0,0%"
ZERO_X = [2003.87, 2016.46]
ZERO_Y = [0, 0]

C04, C07, C10 = "#FFC000", "#0070C0", "#FF0000"
GREY_TXT = "#595959"

# ---------------------------------------------------------------- layout helpers
W, H, DPI = 2216, 1102, 100
names = {f.name for f in fontManager.ttflist}
FONT = "Lato" if "Lato" in names else "DejaVu Sans"
plt.rcParams["font.family"] = [FONT, "DejaVu Sans"]


def fx(x):
    return x / W


def fy(y):
    return 1 - y / H


def fit(text, target_px, weight="normal"):
    fp = FontProperties(family=FONT, weight=weight, size=100)
    w = TextPath((0, 0), text, prop=fp).get_extents().width
    return 100 * target_px / (w * DPI / 72)


fig = plt.figure(figsize=(W / DPI, H / DPI), dpi=DPI)
fig.patch.set_facecolor("white")

# banner
fig.add_artist(Rectangle((0, fy(54)), fx(2210), 54 / H, transform=fig.transFigure,
                         facecolor="#7EC87E", edgecolor="none", zorder=0))
fig.add_artist(Line2D([0, fx(2210)], [fy(55.5)] * 2, transform=fig.transFigure,
                      color="#D0D0D0", lw=1.5, zorder=1))
fig.text(fx(35), fy(29), TITLE, fontsize=fit(TITLE, 2073, "bold"), weight="bold",
         color="black", ha="left", va="center")

# frame + selection handles
fig.add_artist(Line2D([fx(2207)] * 2, [fy(56), fy(1092)], transform=fig.transFigure,
                      color="#BFBFBF", lw=1.2, zorder=1))
fig.add_artist(Line2D([0, fx(2207)], [fy(1091)] * 2, transform=fig.transFigure,
                      color="#D9D9D9", lw=1.5, zorder=1))
fig.add_artist(Rectangle((0, 0), 1, 1, transform=fig.transFigure, fill=False,
                         edgecolor="#8C8C8C", lw=1.5, zorder=1))
for (x0, y0, x1, y1) in [(0, 52, 23, 57), (2193, 53, 2213, 57), (2209, 53, 2213, 72),
                         (0, 1093, 23, 1101), (2196, 1035, 2211, 1101)]:
    fig.add_artist(Rectangle((fx(x0), fy(y1)), (x1 - x0) / W, (y1 - y0) / H,
                             transform=fig.transFigure, facecolor=C04,
                             edgecolor="none", zorder=2))

# ---------------------------------------------------------------- axes
ax = fig.add_axes([fx(96.5), fy(1037), (2139.5 - 96.5) / W, (1037 - 104) / H])
ax.set_xlim(1997, 2023)
ax.set_ylim(-100, 80)
for s in ax.spines.values():
    s.set_visible(False)
ax.set_xticks(TICK_YEARS)
ax.set_xticklabels(TICK_LABELS)
ax.set_yticks(Y_TICKS)
ax.set_yticklabels(Y_LABELS)
tick_fs = fit("01/01/1997", 105)
ax.tick_params(axis="x", length=0, pad=14, labelsize=tick_fs, labelcolor=GREY_TXT)
ax.tick_params(axis="y", length=0, pad=13, labelsize=tick_fs, labelcolor=GREY_TXT)
ax.grid(True, color="#D9D9D9", lw=1.5)
ax.set_axisbelow(True)
ax.axhline(-82.1, color="#BFBFBF", lw=2.0, zorder=1.5)


def xs(pts):
    return [p[0] for p in pts]


def ys(pts):
    return [p[1] for p in pts]


ax.plot(xs(A04), ys(A04), ls="none", marker="+", ms=8.5, mew=1.1, color=C04, zorder=3)
ax.plot(xs(A07), ys(A07), ls="none", marker="+", ms=7.0, mew=1.8, color=C07, zorder=4)
ax.plot(ZERO_X, ZERO_Y, color="black", lw=4.3, zorder=4.5, solid_capstyle="round")
ax.plot(xs(A10), ys(A10), ls="none", marker="+", ms=7.0, mew=1.8, color=C10, zorder=5)
ax.plot(A10_ZERO_X, A10_ZERO_Y, color=C10, lw=5, zorder=5, solid_capstyle="butt")

# ---------------------------------------------------------------- chart title box
fig.add_artist(Rectangle((fx(268), fy(170)), (1934 - 268) / W, (170 - 86) / H,
                         transform=fig.transFigure, facecolor="white",
                         edgecolor="none", zorder=1))
fig.text(fx(277), fy(104), SUB1, fontsize=fit(SUB1, 1653, "semibold"), weight="semibold",
         color=GREY_TXT, ha="left", va="center", zorder=2)
fig.text(fx(491), fy(143), SUB2, fontsize=fit(SUB2, 1262, "semibold"), weight="semibold",
         color=GREY_TXT, ha="left", va="center", zorder=2)

# ---------------------------------------------------------------- legend
fig.add_artist(Rectangle((fx(1808), fy(449)), (2140 - 1808) / W, (449 - 112) / H,
                         transform=fig.transFigure, facecolor="white",
                         edgecolor="none", zorder=1))
leg_fs = fit("Rendement_A04", 200, "semibold")
rows = [224, 287, 352, 415]
for name, col, yy in zip(SERIES_NAMES[:3], [C04, C07, C10], rows[:3]):
    fig.add_artist(Line2D([fx(1870)], [fy(yy)], transform=fig.transFigure, marker="+",
                          ms=5, mew=1.2, color=col, zorder=2))
    fig.text(fx(1900), fy(yy), name, fontsize=leg_fs, weight="semibold", color=GREY_TXT,
             ha="left", va="center", zorder=2)
fig.add_artist(Line2D([fx(1847), fx(1895)], [fy(rows[3])] * 2, transform=fig.transFigure,
                      color="black", lw=3.5, zorder=2))
fig.text(fx(1900), fy(rows[3]), SERIES_NAMES[3], fontsize=leg_fs, weight="semibold",
         color=GREY_TXT, ha="left", va="center", zorder=2)

fig.savefig("out.png", dpi=DPI, facecolor="white")
